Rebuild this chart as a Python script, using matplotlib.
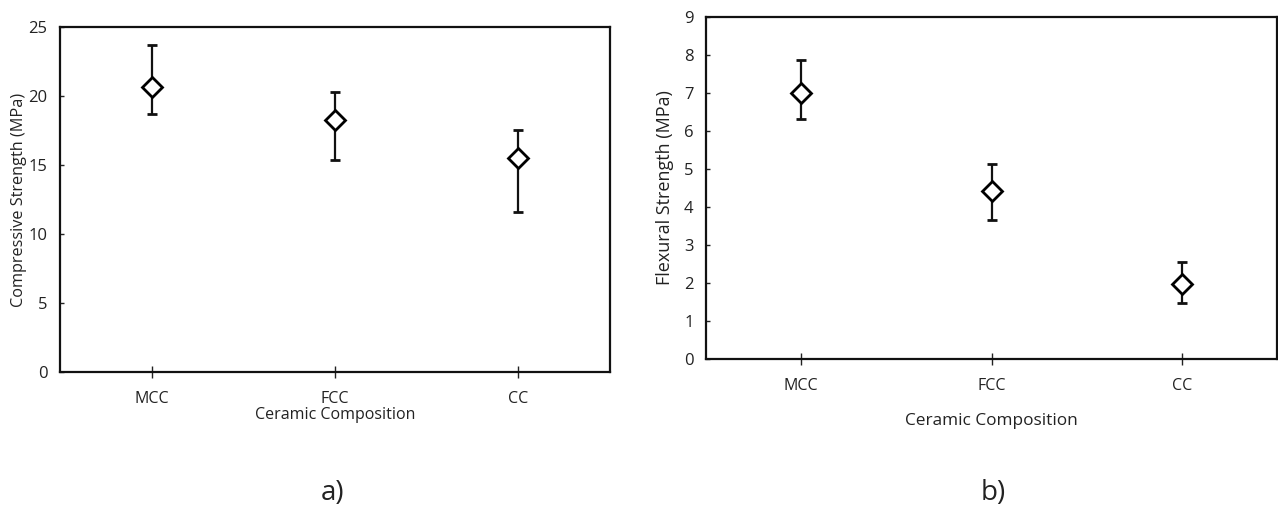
import matplotlib
matplotlib.use("Agg")
import matplotlib.pyplot as plt
from matplotlib import font_manager

categories = ["MCC", "FCC", "CC"]

comp_mean = [20.65, 18.27, 15.52]
comp_upper = [23.7, 20.32, 17.53]
comp_lower = [18.72, 15.33, 11.6]

flex_mean = [7.0, 4.43, 1.98]
flex_upper = [7.88, 5.14, 2.56]
flex_lower = [6.31, 3.65, 1.48]

comp_ticks = [0, 5, 10, 15, 20, 25]
flex_ticks = [0, 1, 2, 3, 4, 5, 6, 7, 8, 9]

avail = {f.name for f in font_manager.fontManager.ttflist}
narrow = "Liberation Sans Narrow" if "Liberation Sans Narrow" in avail else "Open Sans"
wide = "Open Sans" if "Open Sans" in avail else "DejaVu Sans"

fig = plt.figure(figsize=(12.78, 5.09), dpi=100)
ax1 = fig.add_axes([60/1278, 1-372/509, 550/1278, 345/509])
ax2 = fig.add_axes([706/1278, 1-359/509, 571/1278, 342/509])


def draw(ax, mean, up, lo, ticks, ylabel, ylabel_size, xlabel_size, xlabel_pad):
    x = list(range(1, len(categories) + 1))
    yerr = [[m - l for m, l in zip(mean, lo)], [u - m for u, m in zip(up, mean)]]
    ax.errorbar(x, mean, yerr=yerr, fmt='D', color='black', ecolor='#111111',
                elinewidth=1.6, capsize=3.5, capthick=1.6,
                markersize=10.5, markerfacecolor='white', markeredgecolor='black',
                markeredgewidth=2.0, zorder=3)
    ax.set_xlim(0.5, 3.5)
    ax.set_ylim(ticks[0], ticks[-1])
    ax.set_yticks(ticks)
    ax.set_xticks(x)
    ax.set_xticklabels(categories, fontfamily=narrow, fontsize=11.5)
    for lab in ax.get_yticklabels():
        lab.set_fontfamily(narrow)
        lab.set_fontsize(12)
    ax.tick_params(axis='y', direction='in', length=3, width=1, pad=9, colors='#222222')
    ax.tick_params(axis='x', direction='inout', length=8, width=1, pad=10, colors='#222222')
    for s in ax.spines.values():
        s.set_linewidth(1.6)
        s.set_color('#111111')
    ax.set_ylabel(ylabel, fontfamily=wide, fontsize=ylabel_size, color='#222222')
    ax.set_xlabel("Ceramic Composition", fontfamily=narrow, fontsize=xlabel_size,
                  color='#222222', labelpad=xlabel_pad)


draw(ax1, comp_mean, comp_upper, comp_lower, comp_ticks,
     "Compressive Strength (MPa)", 11.7, 11.5, 0)
draw(ax2, flex_mean, flex_upper, flex_lower, flex_ticks,
     "Flexural Strength (MPa)", 13, 12.4, 13)
ax1.yaxis.set_label_coords(-0.06, 0.5)
ax2.yaxis.set_label_coords(-0.056, 0.5)

fig.text(333/1278, 1-493/509, "a)", fontsize=20, fontfamily=wide,
         ha='center', va='center', color='#222222')
fig.text(993/1278, 1-493/509, "b)", fontsize=20, fontfamily=wide,
         ha='center', va='center', color='#222222')

fig.savefig("out.png", dpi=100, facecolor='white')
